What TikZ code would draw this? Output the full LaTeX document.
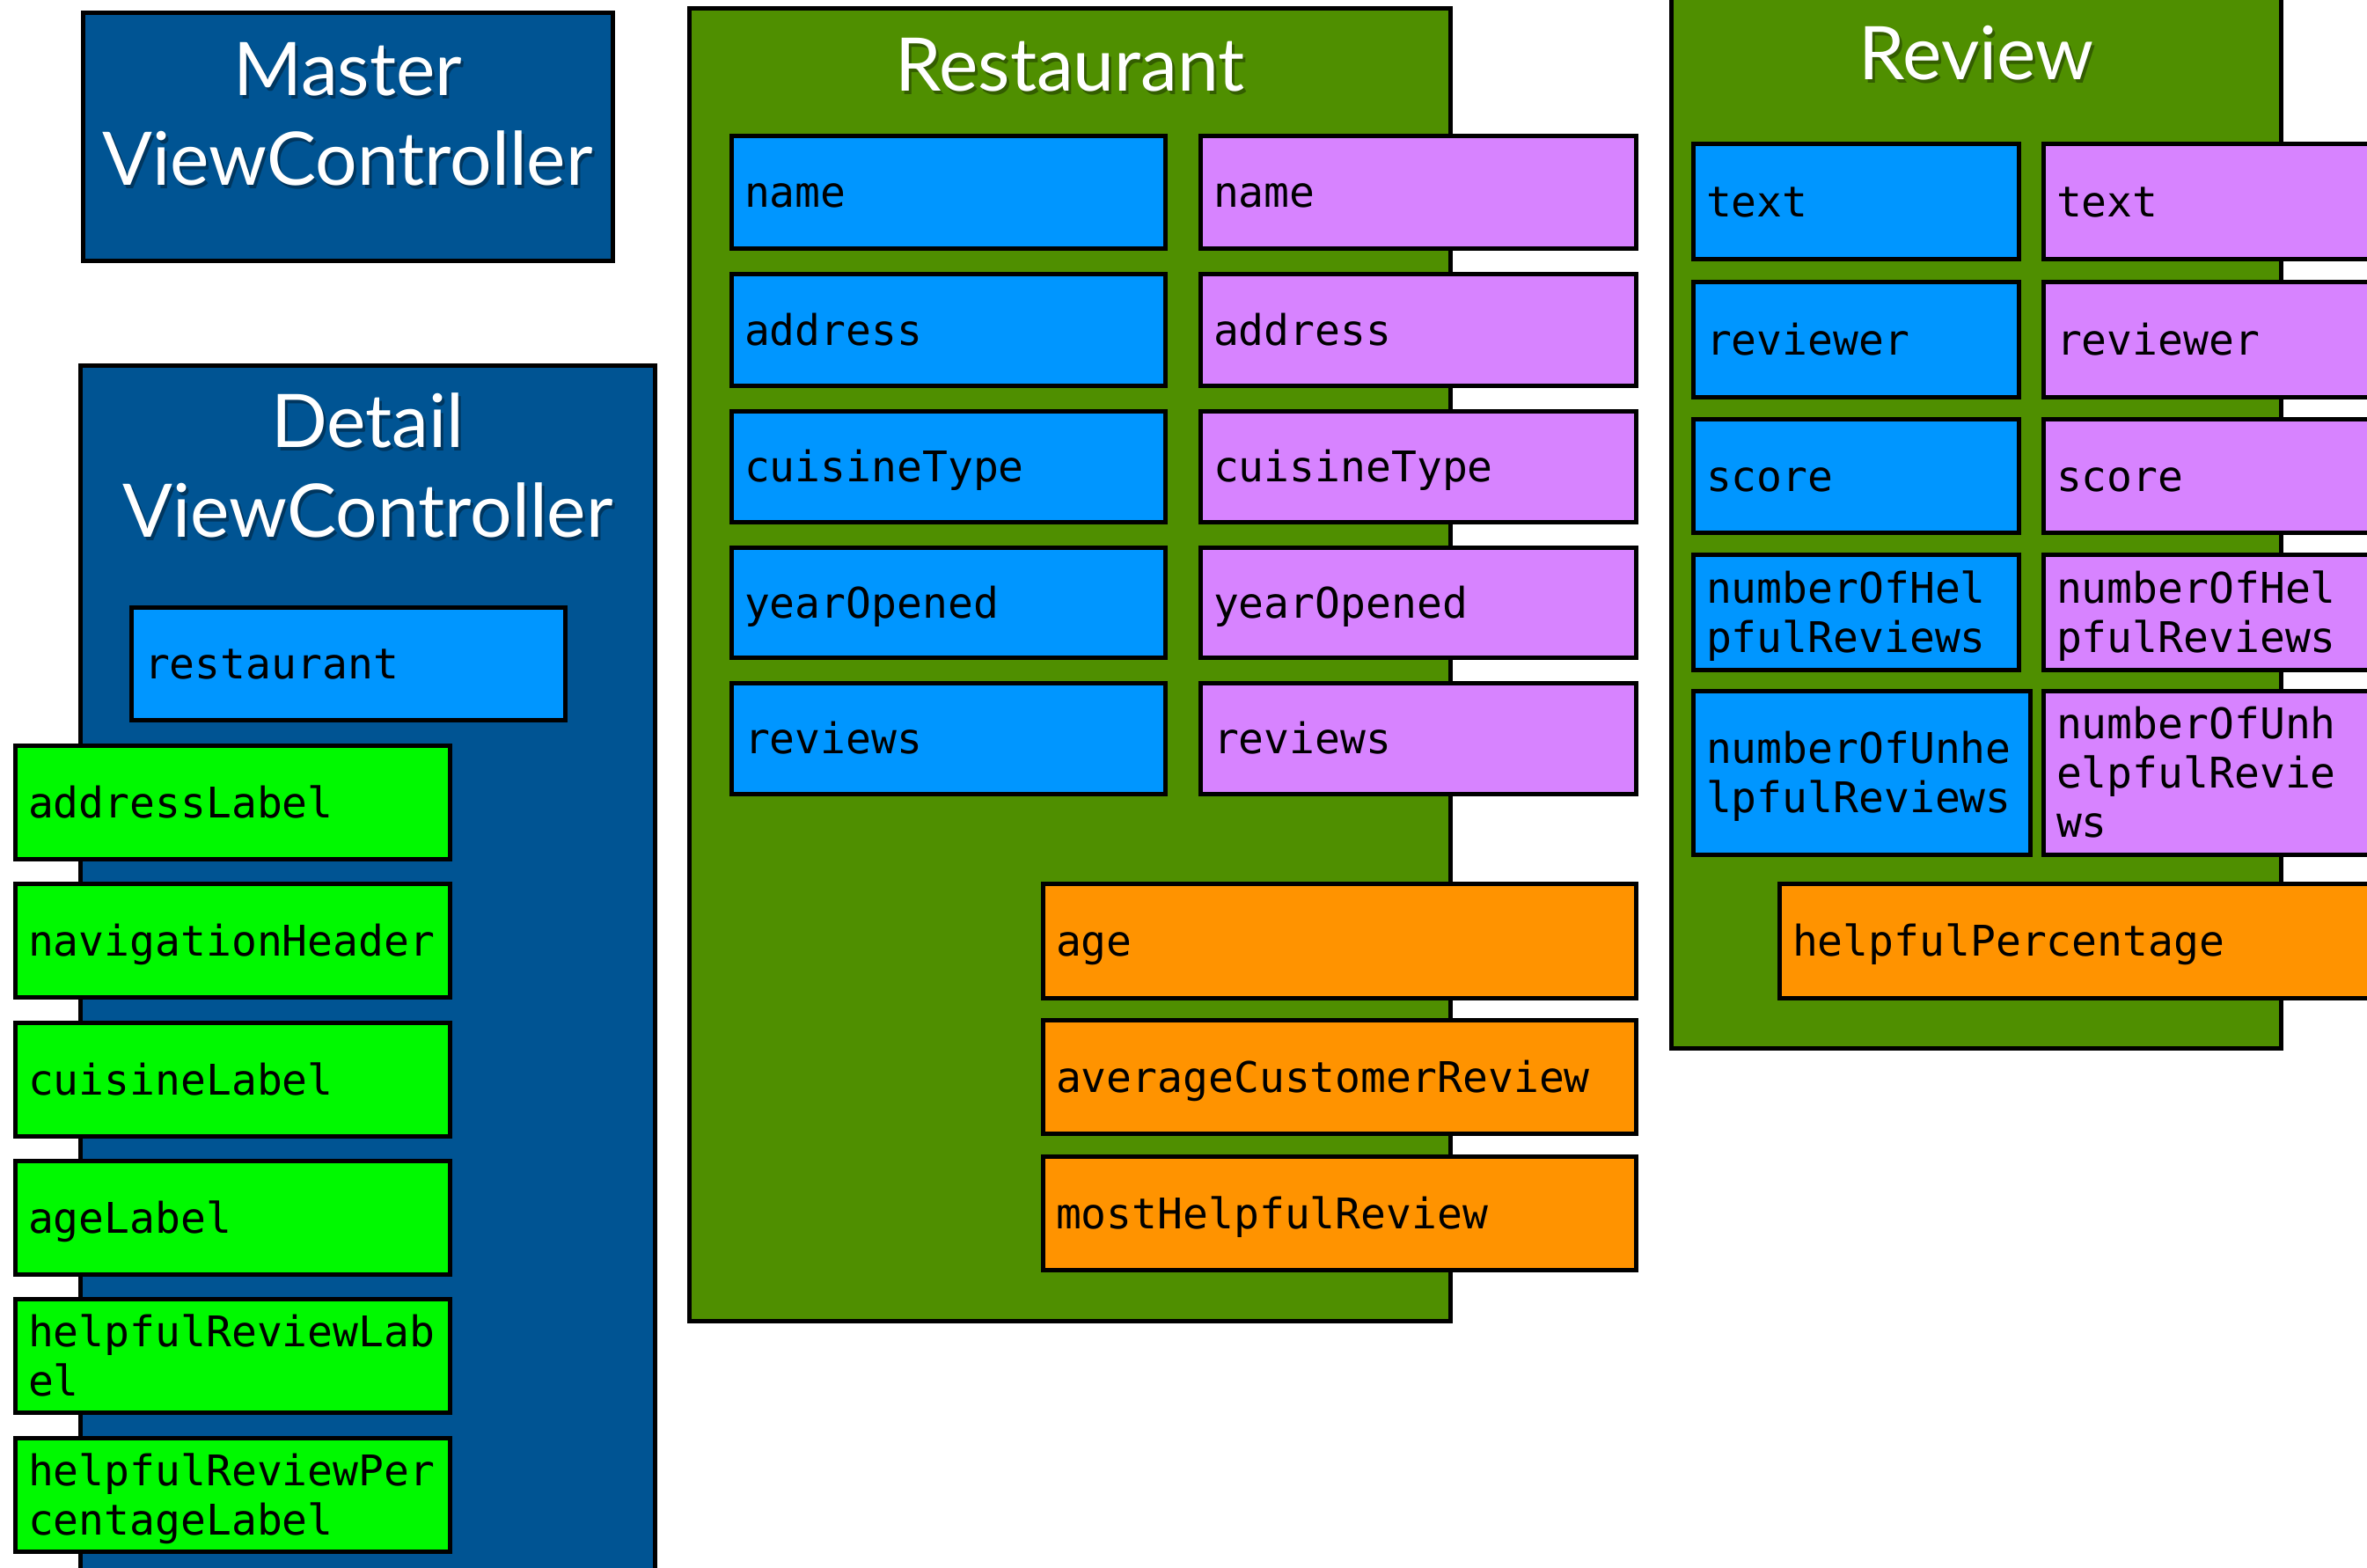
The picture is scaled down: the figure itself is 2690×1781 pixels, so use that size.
\documentclass[tikz,border=0pt]{standalone}
\usepackage{fontspec}
\setmonofont{DejaVu Sans Mono}
\newfontfamily\titlefont{Lato}

\definecolor{ocean}{HTML}{005493}
\definecolor{fern}{HTML}{4F8F00}
\definecolor{aqua}{HTML}{0096FF}
\definecolor{lavender}{HTML}{D783FF}
\definecolor{tangerine}{HTML}{FF9300}
\definecolor{spring}{HTML}{00F900}

% property text: monospaced, never hyphenated, fixed line pitch
\newcommand\fieldfont{\ttfamily\fontsize{48}{56}\selectfont\hyphenpenalty=10000 \exhyphenpenalty=10000 }
\newcommand\fieldstrut{\vrule width 0pt height 45pt depth 11pt\relax}
\newcommand\fieldbreak{\\\fieldstrut}

\tikzset{
  outline/.style={draw=black, line width=5pt, rectangle, anchor=north west,
                  inner sep=0pt, outer sep=0pt},
  field/.style={outline, inner xsep=14.5pt, align=left, font=\fieldfont, text=black},
  heading/.style={font=\titlefont\fontsize{84}{100}\selectfont, anchor=base,
                  inner sep=0pt, text=white},
  headshadow/.style={heading, text=black, opacity=0.35},
}

% boxes are given by their outer edges: x1 y1 x2 y2 (stroke included)
\newcommand\panelbox[6]{%
  \pgfmathsetmacro\boxw{#5-#3-5}%
  \pgfmathsetmacro\boxh{#6-#4-5}%
  \node[outline, fill=#2, minimum width=\boxw pt, minimum height=\boxh pt] (#1) at (#3+2.5,#4+2.5) {};}
\newcommand\field[7]{%
  \pgfmathsetmacro\boxw{#5-#3-5}%
  \pgfmathsetmacro\boxh{#6-#4-5}%
  \pgfmathsetmacro\fieldtw{#5-#3-34}%
  \node[field, fill=#2, minimum width=\boxw pt, minimum height=\boxh pt,
        text width=\fieldtw pt] (#1) at (#3+2.5,#4+2.5) {\fieldstrut #7};}
\newcommand\paneltitle[4]{%
  \node[headshadow] (#1-shadow) at (#2+3,#3+4) {#4};
  \node[heading] (#1) at (#2,#3) {#4};}

\begin{document}
\begin{tikzpicture}[x=1pt,y=-1pt]
\useasboundingbox (0,0) rectangle (2690,1781);

% ---- containers ----
\panelbox{master}{ocean}{92}{12}{699}{299}
\panelbox{detail}{ocean}{89}{413}{747}{1810}
\panelbox{restaurant}{fern}{781}{7}{1651}{1504}
\panelbox{review}{fern}{1897}{-20}{2595}{1194}

% ---- container titles ----
\paneltitle{master-l1}{395}{108}{Master}
\paneltitle{master-l2}{395}{210}{ViewController}
\paneltitle{detail-l1}{418}{508}{Detail}
\paneltitle{detail-l2}{418}{610}{ViewController}
\paneltitle{restaurant-title}{1216}{103}{Restaurant}
\paneltitle{review-title}{2246}{90}{Review}

% ---- DetailViewController ----
\field{dvc-restaurant}{aqua}{147}{688}{645}{821}{restaurant}
\field{dvc-address}{spring}{15}{845}{514}{979}{addressLabel}
\field{dvc-nav}{spring}{15}{1002}{514}{1136}{navigationHeader}
\field{dvc-cuisine}{spring}{15}{1160}{514}{1294}{cuisineLabel}
\field{dvc-age}{spring}{15}{1317}{514}{1451}{ageLabel}
\field{dvc-helpful}{spring}{15}{1474}{514}{1608}{helpfulReviewLab\fieldbreak el}
\field{dvc-percent}{spring}{15}{1632}{514}{1766}{helpfulReviewPer\fieldbreak centageLabel}

% ---- Restaurant ----
\field{r-name-a}{aqua}{829}{152}{1327}{285}{name}
\field{r-address-a}{aqua}{829}{309}{1327}{441}{address}
\field{r-cuisine-a}{aqua}{829}{465}{1327}{596}{cuisineType}
\field{r-year-a}{aqua}{829}{620}{1327}{750}{yearOpened}
\field{r-reviews-a}{aqua}{829}{774}{1327}{905}{reviews}
\field{r-name-b}{lavender}{1362}{152}{1862}{285}{name}
\field{r-address-b}{lavender}{1362}{309}{1862}{441}{address}
\field{r-cuisine-b}{lavender}{1362}{465}{1862}{596}{cuisineType}
\field{r-year-b}{lavender}{1362}{620}{1862}{750}{yearOpened}
\field{r-reviews-b}{lavender}{1362}{774}{1862}{905}{reviews}
\field{r-age}{tangerine}{1183}{1002}{1862}{1137}{age}
\field{r-avg}{tangerine}{1183}{1157}{1862}{1291}{averageCustomerReview}
\field{r-most}{tangerine}{1183}{1312}{1862}{1446}{mostHelpfulReview}

% ---- Review ----
\field{v-text-a}{aqua}{1922}{161}{2297}{297}{text}
\field{v-reviewer-a}{aqua}{1922}{318}{2297}{454}{reviewer}
\field{v-score-a}{aqua}{1922}{474}{2297}{608}{score}
\field{v-helpful-a}{aqua}{1922}{628}{2297}{764}{numberOfHel\fieldbreak pfulReviews}
\field{v-unhelpful-a}{aqua}{1922}{783}{2310}{974}{numberOfUnhe\fieldbreak lpfulReviews}
\field{v-text-b}{lavender}{2320}{161}{2700}{297}{text}
\field{v-reviewer-b}{lavender}{2320}{318}{2700}{454}{reviewer}
\field{v-score-b}{lavender}{2320}{474}{2700}{608}{score}
\field{v-helpful-b}{lavender}{2320}{628}{2700}{764}{numberOfHel\fieldbreak pfulReviews}
\field{v-unhelpful-b}{lavender}{2320}{783}{2700}{974}{numberOfUnh\fieldbreak elpfulRevie\fieldbreak ws}
\field{v-percent}{tangerine}{2020}{1002}{2720}{1137}{helpfulPercentage}

\end{tikzpicture}
\end{document}
